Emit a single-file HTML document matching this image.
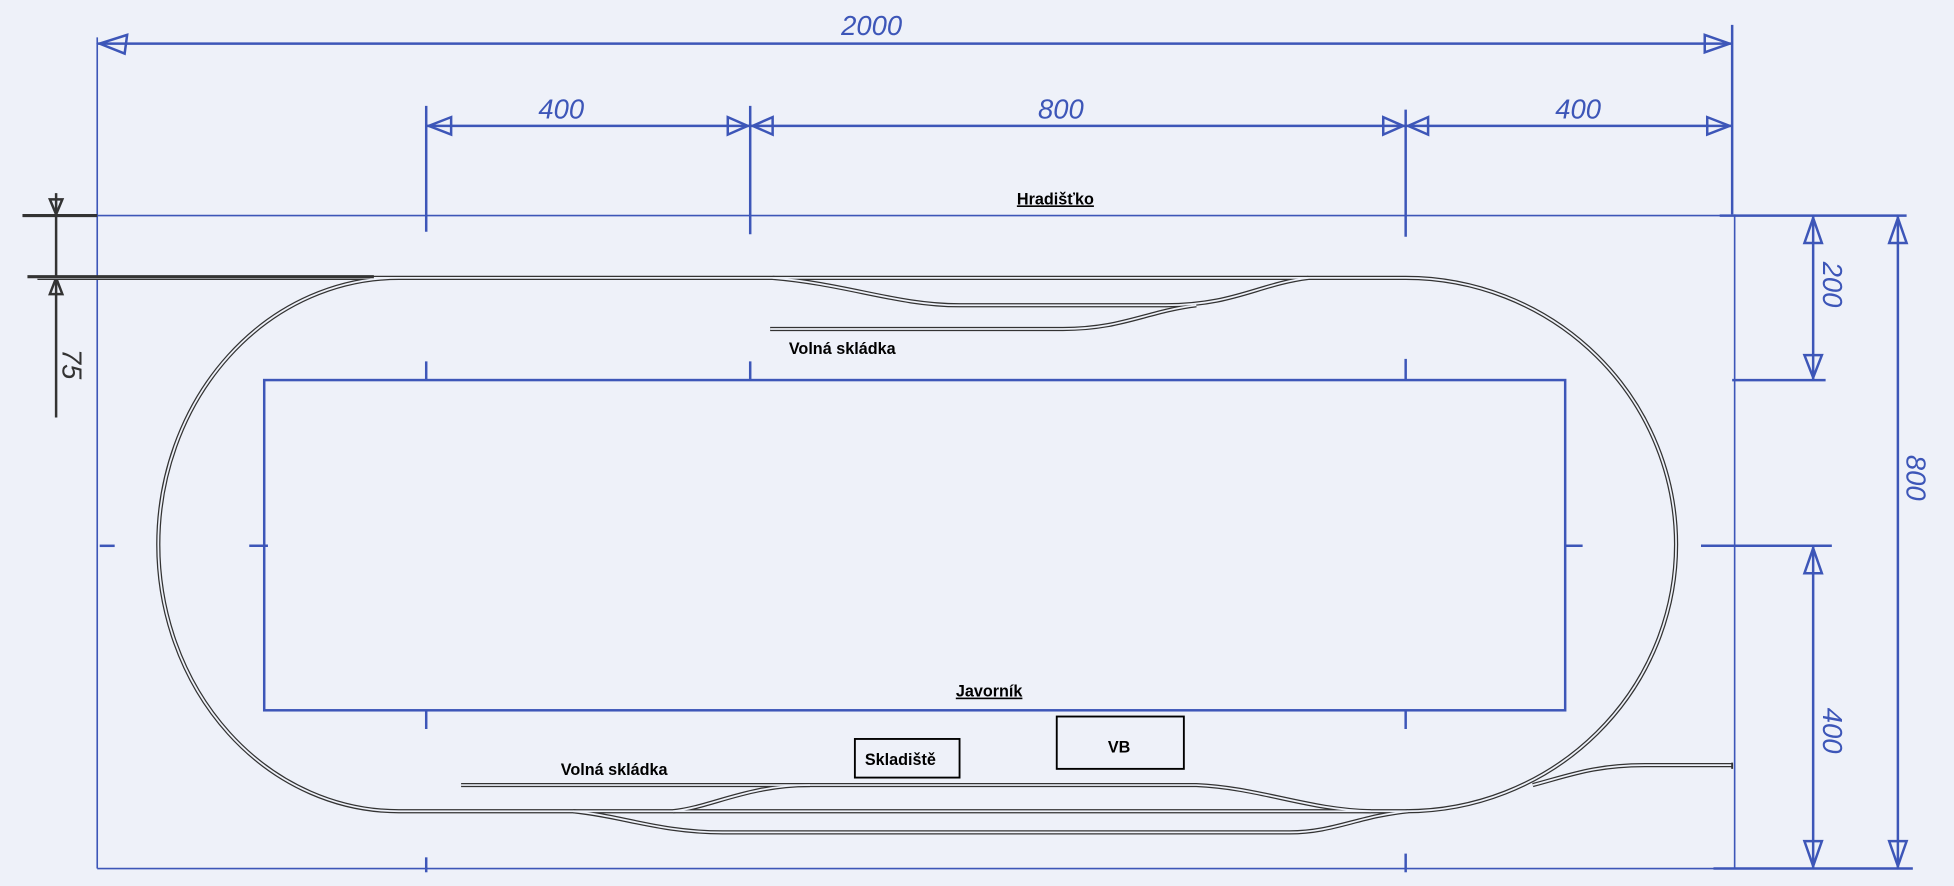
<!DOCTYPE html>
<html><head><meta charset="utf-8"><style>
html,body{margin:0;padding:0;background:#eef1f9;}
svg{display:block}
.b{stroke:#3d56b8;fill:none}
.t{fill:none;stroke:#333;stroke-width:3.4}
.ti{fill:none;stroke:#eef1f9;stroke-width:1.4}
.hw{font-family:"Liberation Sans",sans-serif;fill:#3d56b8;font-size:22px;font-style:italic}
.lb{font-family:"Liberation Sans",sans-serif;font-weight:bold;font-size:13px;fill:#000}
</style></head><body>
<svg width="1954" height="886" viewBox="0 0 1568 711" xmlns="http://www.w3.org/2000/svg">
<rect width="1568" height="711" fill="#eef1f9"/>
<!-- blue dimension geometry -->
<g class="b" stroke-width="2">
<line x1="78" y1="35" x2="1390" y2="35"/>
<line x1="342" y1="101" x2="1390" y2="101"/>
<line x1="342" y1="85" x2="342" y2="186"/>
<line x1="602" y1="85" x2="602" y2="188"/>
<line x1="1128" y1="88" x2="1128" y2="190"/>
<line x1="1390" y1="20" x2="1390" y2="172"/>
<rect x="212" y="305" width="1044" height="265"/>
<line x1="342" y1="290" x2="342" y2="305"/><line x1="602" y1="290" x2="602" y2="305"/><line x1="1128" y1="288" x2="1128" y2="305"/>
<line x1="342" y1="570" x2="342" y2="585"/><line x1="1128" y1="570" x2="1128" y2="585"/>
<line x1="342" y1="688" x2="342" y2="700"/><line x1="1128" y1="685" x2="1128" y2="700"/>
<line x1="80" y1="438" x2="92" y2="438"/><line x1="200" y1="438" x2="215" y2="438"/><line x1="1256" y1="438" x2="1270" y2="438"/>
<line x1="1455" y1="173" x2="1455" y2="305"/>
<line x1="1523" y1="173" x2="1523" y2="697"/>
<line x1="1455" y1="438" x2="1455" y2="697"/>
<line x1="1380" y1="173" x2="1530" y2="173"/>
<line x1="1390" y1="305" x2="1465" y2="305"/>
<line x1="1365" y1="438" x2="1470" y2="438"/>
<line x1="1375" y1="697" x2="1535" y2="697"/>
</g>
<g class="b" stroke-width="1.3">
<line x1="78" y1="30" x2="78" y2="697"/>
<line x1="78" y1="173" x2="1390" y2="173"/>
<line x1="1392" y1="172" x2="1392" y2="697"/>
<line x1="78" y1="697" x2="1390" y2="697"/>
</g>
<!-- arrowheads -->
<g class="b" stroke-width="2">
<path d="M80,35 L102,28 L100,43 Z"/><path d="M1388,35 L1368,28 L1368,42 Z"/>
<path d="M344,101 L362,94 L362,108 Z"/><path d="M600,101 L584,94 L584,108 Z"/>
<path d="M604,101 L620,94 L620,108 Z"/><path d="M1126,101 L1110,94 L1110,108 Z"/>
<path d="M1130,101 L1146,94 L1146,108 Z"/><path d="M1388,101 L1370,94 L1370,108 Z"/>
<path d="M1455,175 L1448,195 L1462,195 Z"/><path d="M1455,303 L1448,285 L1462,285 Z"/>
<path d="M1523,175 L1516,195 L1530,195 Z"/><path d="M1523,695 L1516,675 L1530,675 Z"/>
<path d="M1455,440 L1448,460 L1462,460 Z"/><path d="M1455,695 L1448,675 L1462,675 Z"/>
</g>
<!-- left black 75 dim -->
<g stroke="#333" stroke-width="2" fill="none">
<line x1="18" y1="173" x2="78" y2="173" stroke-width="2.5"/>
<line x1="45" y1="155" x2="45" y2="335"/>
<path d="M45,172 L40,160 L50,160 Z"/><path d="M45,223 L40,236 L50,236 Z"/>
</g>
<text class="hw" x="675" y="28" font-size="24">2000</text>
<text class="hw" x="432" y="95">400</text>
<text class="hw" x="833" y="95">800</text>
<text class="hw" x="1248" y="95">400</text>
<text class="hw" transform="translate(1463,210) rotate(90)">200</text>
<text class="hw" transform="translate(1530,365) rotate(90)" font-size="24">800</text>
<text class="hw" transform="translate(1463,568) rotate(90)">400</text>
<text class="hw" fill="#333" style="fill:#333" transform="translate(50,280) rotate(90)">75</text>
<!-- tracks -->
<g>
<path id="oval" class="t" d="M30,223 L1128,223 A217,214 0 0 1 1128,651 L320,651 A193,214 0 0 1 320,223"/>
<path class="t" d="M620,223 C680,228 720,245 770,245 L935,245 C990,245 1010,228 1050,223"/>
<path class="t" d="M618,264 L853,264 C900,264 920,250 960,245"/>
<path class="t" d="M1230,630 C1260,622 1280,614 1320,614 L1390,614"/>
<path class="t" d="M370,630 L960,630 C1010,632 1050,650 1100,651"/>
<path class="t" d="M460,651 C500,655 530,668 580,668 L1035,668 C1070,668 1090,655 1130,651"/>
<path class="t" d="M540,651 C570,648 600,630 650,630"/>
</g>
<g>
<path class="ti" d="M30,223 L1128,223 A217,214 0 0 1 1128,651 L320,651 A193,214 0 0 1 320,223"/>
<path class="ti" d="M620,223 C680,228 720,245 770,245 L935,245 C990,245 1010,228 1050,223"/>
<path class="ti" d="M618,264 L853,264 C900,264 920,250 960,245"/>
<path class="ti" d="M1230,630 C1260,622 1280,614 1320,614 L1390,614"/>
<path class="ti" d="M370,630 L960,630 C1010,632 1050,650 1100,651"/>
<path class="ti" d="M460,651 C500,655 530,668 580,668 L1035,668 C1070,668 1090,655 1130,651"/>
<path class="ti" d="M540,651 C570,648 600,630 650,630"/>
</g>
<line x1="22" y1="222" x2="300" y2="222" stroke="#333" stroke-width="2.5"/>
<line x1="1390" y1="612" x2="1390" y2="617" stroke="#333" stroke-width="1.5"/>
<!-- labels -->
<text class="lb" x="816" y="164" text-decoration="underline">Hradišťko</text>
<text class="lb" x="633" y="284">Volná skládka</text>
<text class="lb" x="767" y="559" text-decoration="underline">Javorník</text>
<text class="lb" x="450" y="622">Volná skládka</text>
<rect x="686" y="593" width="84" height="31" fill="none" stroke="#000" stroke-width="1.5"/>
<text class="lb" x="694" y="614">Skladiště</text>
<rect x="848" y="575" width="102" height="42" fill="none" stroke="#000" stroke-width="1.5"/>
<text class="lb" x="889" y="604">VB</text>
</svg>
</body></html>
